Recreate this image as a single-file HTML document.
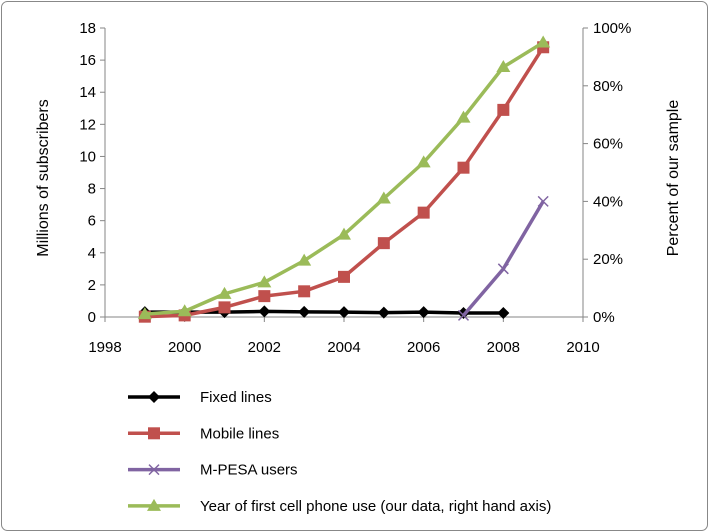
<!DOCTYPE html>
<html><head><meta charset="utf-8"><style>
body{margin:0;background:#fff;}
svg{display:block;font-family:"Liberation Sans",sans-serif;}
</style></head><body>
<svg id="c" width="709" height="532">
<rect x="1.5" y="1.5" width="706" height="529" rx="6" fill="#fff" stroke="#888"/>
<g id="g"></g>
</svg>
<script>
const years=[1999,2000,2001,2002,2003,2004,2005,2006,2007,2008,2009];
const fixedLines=[0.3,0.3,0.3,0.35,0.32,0.3,0.27,0.3,0.25,0.25,null];
const mobileLines=[0.02,0.1,0.6,1.3,1.6,2.5,4.6,6.5,9.3,12.9,16.8];
const mpesaUsers=[null,null,null,null,null,null,null,null,0.1,3.0,7.2];
const firstPhonePct=[1,2,8,12,19.5,28.5,41,53.5,69,86.5,95];
const xTicks=[1998,2000,2002,2004,2006,2008,2010];
const yTicks=[0,2,4,6,8,10,12,14,16,18];
const pctTicks=[0,20,40,60,80,100];
const NS="http://www.w3.org/2000/svg";
const g=document.getElementById('g');
const X0=105,X1=583,Y0=317,Y1=28;
const xs=v=>X0+(v-1998)/12*(X1-X0);
const ys=v=>Y0-v/18*(Y0-Y1);
const yp=v=>Y0-v/100*(Y0-Y1);
function el(t,a,txt){const e=document.createElementNS(NS,t);for(const k in a)e.setAttribute(k,a[k]);if(txt!=null)e.textContent=txt;g.appendChild(e);return e;}
let e;
e=el('line',{x1:X0,y1:Y1,x2:X0,y2:Y0,stroke:'#868686'});


e=el('line',{x1:X1,y1:Y1,x2:X1,y2:Y0,stroke:'#868686'});


e=el('line',{x1:X0,y1:Y0,x2:X1,y2:Y0,stroke:'#868686'});


yTicks.forEach(v=>{el('line',{x1:X0-5,y1:ys(v),x2:X0,y2:ys(v),stroke:'#868686'});
e=el('text',{x:X0-9,y:ys(v)+5,'text-anchor':'end','font-size':15},v);

});
pctTicks.forEach(v=>{el('line',{x1:X1,y1:yp(v),x2:X1+5,y2:yp(v),stroke:'#868686'});
e=el('text',{x:X1+10,y:yp(v)+5,'font-size':15},v+'%');

});
xTicks.forEach(v=>{el('line',{x1:xs(v),y1:Y0,x2:xs(v),y2:Y0+5,stroke:'#868686'});
e=el('text',{x:xs(v),y:Y0+35,'text-anchor':'middle','font-size':15},v);

});
e=el('text',{transform:'translate(48,178) rotate(-90)','text-anchor':'middle','font-size':16},'Millions of subscribers');


e=el('text',{transform:'translate(678,178) rotate(-90)','text-anchor':'middle','font-size':16},'Percent of our sample');


function marker(type,x,y,c){
 if(type==='diamond')return el('polygon',{points:`${x},${y-6} ${x+6},${y} ${x},${y+6} ${x-6},${y}`,fill:c});
 if(type==='square')return el('rect',{x:x-6,y:y-6,width:12,height:12,fill:c});
 if(type==='x')return el('path',{d:`M${x-5},${y-5}L${x+5},${y+5}M${x-5},${y+5}L${x+5},${y-5}`,stroke:c,'stroke-width':1.5});
 return el('polygon',{points:`${x},${y-7} ${x+7},${y+5} ${x-7},${y+5}`,fill:c});
}
function series(vals,sc,c,type,name){
 const pts=[];vals.forEach((v,i)=>{if(v!=null)pts.push([xs(years[i]),sc(v)]);});
 e=el('polyline',{points:pts.map(p=>p.join(',')).join(' '),fill:'none',stroke:c,'stroke-width':3.5,'stroke-linejoin':'round'});
 
 
 pts.forEach(p=>{e=marker(type,p[0],p[1],c);
 
 });
}
series(fixedLines,ys,'#000','diamond','fixed-lines');
series(mobileLines,ys,'#c0504d','square','mobile-lines');
series(mpesaUsers,ys,'#8064a2','x','mpesa-users');
series(firstPhonePct,yp,'#9bbb59','triangle','first-phone-use');
const legend=[['Fixed lines','#000','diamond','legend-fixed-lines'],['Mobile lines','#c0504d','square','legend-mobile-lines'],['M-PESA users','#8064a2','x','legend-mpesa-users'],['Year of first cell phone use (our data, right hand axis)','#9bbb59','triangle','legend-first-phone-use']];
legend.forEach((L,i)=>{const y=397+i*36.3;
 el('line',{x1:128,y1:y,x2:180,y2:y,stroke:L[1],'stroke-width':3.5});marker(L[2],154,y,L[1]);
 e=el('text',{x:200,y:y+5,'font-size':15},L[0]);
 
 });
</script>
</body></html>
